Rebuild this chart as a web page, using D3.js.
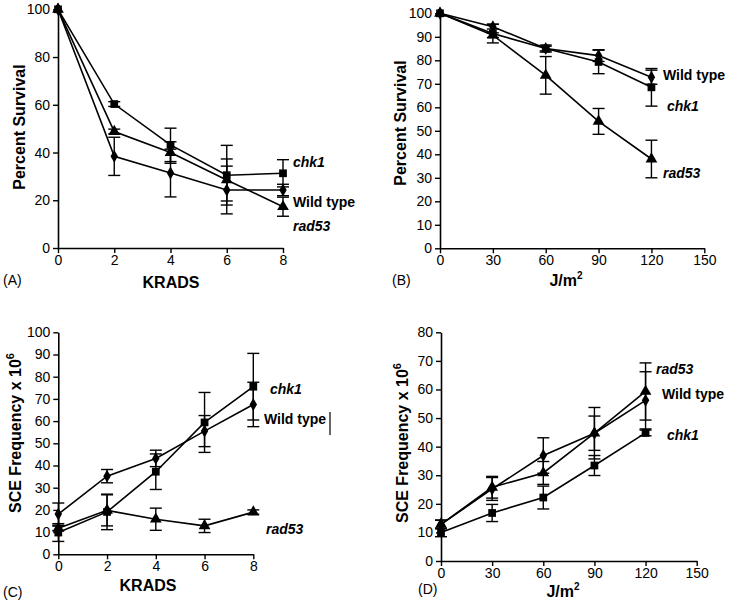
<!DOCTYPE html>
<html>
<head>
<meta charset="utf-8">
<script src="https://cdn.jsdelivr.net/npm/d3@7"></script>
<style>
  body { margin: 0; background: #fff; }
  svg { display: block; font-family: "Liberation Sans", Arial, sans-serif; }
</style>
</head>
<body>
<div id="chart"></div>
<script>
// dose values
const kradsDose = [0, 2, 4, 6, 8];
const uvDose = [0, 30, 60, 90, 120];

// (A) percent survival vs KRADS
const aChk1 = [100, 60.3, 43.2, 30.5, 31.3];
const aChk1Err = [0, 1, 7, 12.5, 5.7];
const aWild = [100, 38.4, 31.4, 24.3, 24.3];
const aWildErr = [0, 8, 10, 10, 2.4];
const aRad53 = [100, 48.8, 40, 28.5, 17.3];
const aRad53Err = [0, 1, 4.5, 8.8, 4];

// (B) percent survival vs J/m2
const bWild = [100, 94.3, 85, 82, 72.8];
const bWildErr = [0, 1, 1, 2.5, 3];
const bChk1 = [100, 91.4, 85, 79.3, 68.5];
const bChk1Err = [0, 4, 1.5, 5, 8];
const bRad53 = [100, 90.7, 73.6, 54, 38];
const bRad53Err = [0, 1, 8, 5.5, 8];

// (C) SCE frequency vs KRADS
const cChk1 = [9.8, 19.1, 37.2, 59.4, 75.5];
const cChk1Err = [4, 8, 8, 13.5, 15];
const cWild = [18.1, 35.2, 43.2, 55.5, 67.5];
const cWildErr = [5, 3, 3.7, 7, 10];
const cRad53 = [11.7, 19.8, 15.8, 12.8, 19];
const cRad53Err = [1, 7, 5, 3, 1];

// (D) SCE frequency vs J/m2
const dRad53 = [12.8, 25.8, 30.8, 44.7, 59.3];
const dRad53Err = [1.5, 3.8, 4, 6, 10];
const dWild = [12.8, 25.2, 36.9, 44.7, 56.2];
const dWildErr = [1.5, 4, 6.2, 9, 10];
const dChk1 = [10, 16.8, 22.2, 33.4, 44.8];
const dChk1Err = [1.5, 3, 4, 3.5, 1];

const kradsTicks = [0, 2, 4, 6, 8];
const uvTicks = [0, 30, 60, 90, 120, 150];
const survTicksA = [0, 20, 40, 60, 80, 100];
const survTicksB = d3.range(0, 101, 10);
const sceTicksC = d3.range(0, 101, 10);
const sceTicksD = d3.range(0, 81, 10);

const svg = d3.select("#chart").append("svg")
  .attr("width", 730)
  .attr("height", 602);

function drawPanel(p) {
  const x = d3.scaleLinear().domain(p.xDomain).range([p.left, p.right]);
  const y = d3.scaleLinear().domain(p.yDomain).range([p.bottom, p.top]);
  const g = svg.append("g");

  const xa = g.append("g")
    .attr("transform", `translate(0,${p.bottom})`)
    .call(d3.axisBottom(x).tickValues(p.xTicks).tickSize(5).tickPadding(2).tickSizeOuter(0));
  const ya = g.append("g")
    .attr("transform", `translate(${p.left},0)`)
    .call(d3.axisLeft(y).tickValues(p.yTicks).tickSize(5).tickPadding(3).tickSizeOuter(0));
  [xa, ya].forEach(a => {
    a.select(".domain").attr("stroke", "#000").attr("stroke-width", 1.6);
    a.selectAll(".tick line").attr("stroke", "#000").attr("stroke-width", 1.4);
    a.selectAll(".tick text").attr("fill", "#000").attr("font-size", 14)
      .attr("font-family", "'Liberation Sans', Arial, sans-serif");
  });

  const line = d3.line().x(d => x(d[0])).y(d => y(d[1]));

  p.series.forEach(s => {
    const pts = p.xs.map((v, i) => [v, s.values[i], s.err[i]]);
    g.append("path")
      .datum(pts)
      .attr("fill", "none")
      .attr("stroke", "#000")
      .attr("stroke-width", 1.6)
      .attr("d", line);

    const eb = g.append("g").selectAll("g")
      .data(pts.filter(d => d[2] > 0))
      .join("g");
    eb.append("line")
      .attr("x1", d => x(d[0])).attr("x2", d => x(d[0]))
      .attr("y1", d => y(d[1] + d[2])).attr("y2", d => y(d[1] - d[2]))
      .attr("stroke", "#000").attr("stroke-width", 1.4);
    [1, -1].forEach(sign => {
      eb.append("line")
        .attr("x1", d => x(d[0]) - 6).attr("x2", d => x(d[0]) + 6)
        .attr("y1", d => y(d[1] + sign * d[2])).attr("y2", d => y(d[1] + sign * d[2]))
        .attr("stroke", "#000").attr("stroke-width", 1.4);
    });

    const sym = d3.symbol().type(s.shape).size(s.shape === d3.symbolDiamond ? 48 : 60);
    g.append("g").selectAll("path")
      .data(pts)
      .join("path")
      .attr("transform", d => `translate(${x(d[0])},${y(d[1])})`)
      .attr("d", sym)
      .attr("fill", "#000");

    g.append("text")
      .attr("x", s.lx).attr("y", s.ly)
      .attr("font-size", 14)
      .attr("font-weight", "bold")
      .attr("font-style", s.italic ? "italic" : "normal")
      .text(s.name);
  });

  g.append("text")
    .attr("x", p.xTitle[0]).attr("y", p.xTitle[1])
    .attr("text-anchor", "middle")
    .attr("font-size", 16).attr("font-weight", "bold")
    .call(t => {
      t.append("tspan").text(p.xLabel);
      if (p.xSup) t.append("tspan").attr("font-size", 10).attr("dy", -7).text(p.xSup);
    });

  g.append("text")
    .attr("transform", `translate(${p.yTitle[0]},${p.yTitle[1]}) rotate(-90)`)
    .attr("text-anchor", "middle")
    .attr("dy", "0.36em")
    .attr("font-size", 16).attr("font-weight", "bold")
    .call(t => {
      t.append("tspan").text(p.yLabel);
      if (p.ySup) t.append("tspan").attr("font-size", 11).attr("dy", -7).text(p.ySup);
    });

  g.append("text")
    .attr("x", p.tag[0]).attr("y", p.tag[1])
    .attr("font-size", 14)
    .text(p.tagText);
  return g;
}

const sq = d3.symbolSquare, di = d3.symbolDiamond, tr = d3.symbolTriangle;

drawPanel({
  left: 58, right: 283, top: 9.3, bottom: 248,
  xDomain: [0, 8], yDomain: [0, 100], xTicks: kradsTicks, yTicks: survTicksA, xs: kradsDose,
  xLabel: "KRADS", xTitle: [171, 288], yLabel: "Percent Survival", yTitle: [19, 127],
  tag: [3, 285], tagText: "(A)",
  series: [
    { name: "chk1", values: aChk1, err: aChk1Err, shape: sq, italic: true, lx: 293, ly: 167 },
    { name: "Wild type", values: aWild, err: aWildErr, shape: di, italic: false, lx: 293, ly: 207 },
    { name: "rad53", values: aRad53, err: aRad53Err, shape: tr, italic: true, lx: 293, ly: 231 }
  ]
});

drawPanel({
  left: 440, right: 704.3, top: 13.3, bottom: 248.3,
  xDomain: [0, 150], yDomain: [0, 100], xTicks: uvTicks, yTicks: survTicksB, xs: uvDose,
  xLabel: "J/m", xSup: "2", xTitle: [566, 286], yLabel: "Percent Survival", yTitle: [400, 123],
  tag: [392, 285], tagText: "(B)",
  series: [
    { name: "Wild type", values: bWild, err: bWildErr, shape: di, italic: false, lx: 663, ly: 80 },
    { name: "chk1", values: bChk1, err: bChk1Err, shape: sq, italic: true, lx: 667, ly: 111 },
    { name: "rad53", values: bRad53, err: bRad53Err, shape: tr, italic: true, lx: 663, ly: 178 }
  ]
});

const gC = drawPanel({
  left: 58.3, right: 253.3, top: 332.3, bottom: 554.3,
  xDomain: [0, 8], yDomain: [0, 100], xTicks: kradsTicks, yTicks: sceTicksC, xs: kradsDose,
  xLabel: "KRADS", xTitle: [148, 591], yLabel: "SCE Frequency x 10", ySup: "6", yTitle: [15, 433],
  tag: [3, 597], tagText: "(C)",
  series: [
    { name: "chk1", values: cChk1, err: cChk1Err, shape: sq, italic: true, lx: 270, ly: 394 },
    { name: "Wild type", values: cWild, err: cWildErr, shape: di, italic: false, lx: 264, ly: 424 },
    { name: "rad53", values: cRad53, err: cRad53Err, shape: tr, italic: true, lx: 266, ly: 534 }
  ]
});
// stray vertical stroke after the Wild type label
gC.append("line").attr("x1", 330).attr("x2", 330).attr("y1", 412).attr("y2", 435)
  .attr("stroke", "#000").attr("stroke-width", 1.2);

drawPanel({
  left: 441, right: 696.7, top: 332.3, bottom: 561,
  xDomain: [0, 150], yDomain: [0, 80], xTicks: uvTicks, yTicks: sceTicksD, xs: uvDose,
  xLabel: "J/m", xSup: "2", xTitle: [563, 597], yLabel: "SCE Frequency x 10", ySup: "6", yTitle: [402, 443],
  tag: [418, 594], tagText: "(D)",
  series: [
    { name: "rad53", values: dRad53, err: dRad53Err, shape: tr, italic: true, lx: 656, ly: 374 },
    { name: "Wild type", values: dWild, err: dWildErr, shape: di, italic: false, lx: 662, ly: 399 },
    { name: "chk1", values: dChk1, err: dChk1Err, shape: sq, italic: true, lx: 667, ly: 440 }
  ]
});
</script>
</body>
</html>
